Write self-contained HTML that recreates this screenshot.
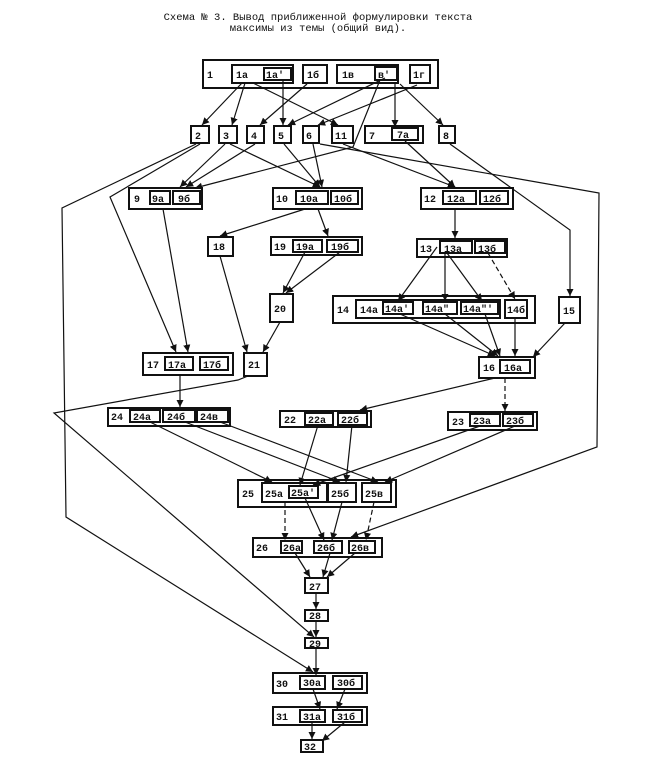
<!DOCTYPE html>
<html><head><meta charset="utf-8"><style>
html,body{margin:0;padding:0;background:#fff;}
svg{display:block;}
text{font-family:"Liberation Mono","DejaVu Sans Mono",monospace;font-size:10px;fill:#111;font-weight:bold;}
.t{font-size:10.5px;font-weight:normal;}
</style></head><body>
<svg width="647" height="761" viewBox="0 0 647 761" xmlns="http://www.w3.org/2000/svg">
<defs><marker id="a" markerWidth="7" markerHeight="7" refX="6" refY="3" orient="auto"><path d="M0,0 L6,3 L0,6 z" fill="#111"/></marker></defs>
<text class="t" x="318" y="20" text-anchor="middle">Схема № 3. Вывод приближенной формулировки текста</text>
<text class="t" x="318" y="31" text-anchor="middle">максимы из темы (общий вид).</text>
<g fill="none" stroke="#111" stroke-width="2">
<rect x="203" y="60" width="235" height="28"/>
<rect x="232" y="65" width="61" height="18"/><rect x="264" y="68" width="27" height="12"/>
<rect x="303" y="65" width="24" height="18"/>
<rect x="337" y="65" width="61" height="18"/><rect x="375" y="67" width="22" height="13"/>
<rect x="410" y="65" width="20" height="18"/>
<rect x="191" y="126" width="18" height="17"/><rect x="219" y="126" width="18" height="17"/>
<rect x="247" y="126" width="17" height="17"/><rect x="274" y="126" width="17" height="17"/>
<rect x="303" y="126" width="16" height="17"/><rect x="332" y="126" width="21" height="17"/>
<rect x="365" y="126" width="58" height="17"/><rect x="392" y="128" width="26" height="12"/>
<rect x="439" y="126" width="16" height="17"/>
<rect x="129" y="188" width="73" height="21"/><rect x="150" y="191" width="20" height="13"/><rect x="173" y="191" width="27" height="13"/>
<rect x="273" y="188" width="89" height="21"/><rect x="296" y="191" width="32" height="13"/><rect x="331" y="191" width="27" height="13"/>
<rect x="421" y="188" width="92" height="21"/><rect x="443" y="191" width="33" height="13"/><rect x="480" y="191" width="28" height="13"/>
<rect x="208" y="237" width="25" height="19"/>
<rect x="271" y="237" width="91" height="18"/><rect x="293" y="240" width="29" height="12"/><rect x="327" y="240" width="31" height="12"/>
<rect x="417" y="239" width="90" height="18"/><rect x="440" y="241" width="32" height="12"/><rect x="475" y="241" width="30" height="12"/>
<rect x="270" y="294" width="23" height="28"/>
<rect x="333" y="296" width="202" height="27"/><rect x="356" y="300" width="144" height="18"/>
<rect x="383" y="302" width="30" height="12"/><rect x="423" y="302" width="34" height="12"/><rect x="461" y="302" width="37" height="12"/>
<rect x="505" y="300" width="22" height="18"/>
<rect x="559" y="297" width="21" height="26"/>
<rect x="143" y="353" width="90" height="22"/><rect x="165" y="357" width="28" height="13"/><rect x="200" y="357" width="28" height="13"/>
<rect x="244" y="353" width="23" height="23"/>
<rect x="479" y="357" width="56" height="21"/><rect x="500" y="360" width="30" height="13"/>
<rect x="108" y="408" width="122" height="18"/><rect x="130" y="410" width="30" height="12"/><rect x="163" y="410" width="32" height="12"/><rect x="197" y="410" width="31" height="12"/>
<rect x="280" y="411" width="91" height="16"/><rect x="305" y="413" width="28" height="12"/><rect x="338" y="413" width="29" height="12"/>
<rect x="448" y="412" width="89" height="18"/><rect x="470" y="414" width="30" height="12"/><rect x="503" y="414" width="30" height="12"/>
<rect x="238" y="480" width="158" height="27"/><rect x="262" y="483" width="65" height="19"/><rect x="289" y="486" width="29" height="12"/>
<rect x="328" y="483" width="28" height="19"/><rect x="362" y="483" width="29" height="19"/>
<rect x="253" y="538" width="129" height="19"/><rect x="281" y="541" width="21" height="12"/><rect x="314" y="541" width="28" height="12"/><rect x="349" y="541" width="26" height="12"/>
<rect x="305" y="578" width="23" height="15"/>
<rect x="305" y="610" width="23" height="11"/>
<rect x="305" y="638" width="23" height="10"/>
<rect x="273" y="673" width="94" height="20"/><rect x="300" y="676" width="25" height="13"/><rect x="333" y="676" width="29" height="13"/>
<rect x="273" y="707" width="94" height="18"/><rect x="300" y="710" width="25" height="12"/><rect x="333" y="710" width="29" height="12"/>
<rect x="301" y="740" width="22" height="12"/>
</g>
<g fill="none" stroke="#111" stroke-width="1.2" marker-end="url(#a)">
<line x1="242" y1="83" x2="202" y2="125"/>
<line x1="245" y1="83" x2="232" y2="125"/>
<line x1="253" y1="83" x2="338" y2="125"/>
<line x1="283" y1="80" x2="283" y2="125"/>
<line x1="307" y1="84" x2="260" y2="125"/>
<line x1="385" y1="78" x2="288" y2="125"/>
<line x1="417" y1="85" x2="318" y2="125"/>
<line x1="395" y1="82" x2="395" y2="127"/>
<line x1="400" y1="84" x2="443" y2="125"/>
<polyline points="380,80 353,147 195,188"/>
<line x1="225" y1="144" x2="180" y2="187"/>
<line x1="255" y1="144" x2="186" y2="187"/>
<line x1="230" y1="144" x2="320" y2="187"/>
<line x1="284" y1="144" x2="320" y2="187"/>
<line x1="313" y1="144" x2="322" y2="187"/>
<line x1="343" y1="144" x2="455" y2="187"/>
<line x1="405" y1="141" x2="455" y2="187"/>
<polyline points="450,144 570,230 570,296"/>
<polyline points="320,144 599,193 597,447 351,537"/>
<polyline points="200,144 110,197 176,352"/>
<polyline points="196,144 62,208 66,517 313,672"/>
<line x1="163" y1="209" x2="188" y2="352"/>
<line x1="305" y1="209" x2="220" y2="236"/>
<line x1="318" y1="209" x2="328" y2="236"/>
<line x1="455" y1="209" x2="455" y2="238"/>
<line x1="305" y1="252" x2="283" y2="293"/>
<line x1="340" y1="252" x2="286" y2="293"/>
<line x1="220" y1="256" x2="247" y2="352"/>
<line x1="280" y1="322" x2="263" y2="352"/>
<line x1="437" y1="247" x2="398" y2="301"/>
<line x1="445" y1="253" x2="445" y2="301"/>
<line x1="447" y1="253" x2="482" y2="301"/>
<line x1="488" y1="253" x2="515" y2="299" stroke-dasharray="5,3"/>
<line x1="400" y1="314" x2="495" y2="356"/>
<line x1="445" y1="314" x2="498" y2="356"/>
<line x1="485" y1="314" x2="500" y2="356"/>
<line x1="515" y1="318" x2="515" y2="356"/>
<line x1="565" y1="323" x2="533" y2="357"/>
<line x1="180" y1="375" x2="180" y2="407"/>
<polyline points="248,376 238,380 54,413 314,637"/>
<line x1="495" y1="378" x2="360" y2="410"/>
<line x1="505" y1="378" x2="505" y2="411" stroke-dasharray="5,3"/>
<line x1="150" y1="422" x2="272" y2="482"/>
<line x1="185" y1="422" x2="340" y2="482"/>
<line x1="220" y1="422" x2="378" y2="482"/>
<line x1="318" y1="425" x2="300" y2="485"/>
<line x1="352" y1="425" x2="346" y2="482"/>
<line x1="480" y1="426" x2="313" y2="485"/>
<line x1="515" y1="426" x2="385" y2="482"/>
<line x1="285" y1="502" x2="285" y2="540" stroke-dasharray="5,3"/>
<line x1="305" y1="498" x2="324" y2="540"/>
<line x1="342" y1="502" x2="332" y2="540"/>
<line x1="374" y1="502" x2="366" y2="540" stroke-dasharray="5,3"/>
<line x1="295" y1="553" x2="310" y2="577"/>
<line x1="330" y1="553" x2="323" y2="577"/>
<line x1="355" y1="553" x2="327" y2="577"/>
<line x1="316" y1="593" x2="316" y2="609"/>
<line x1="316" y1="621" x2="316" y2="637"/>
<line x1="316" y1="648" x2="316" y2="675"/>
<line x1="313" y1="689" x2="320" y2="709"/>
<line x1="345" y1="689" x2="337" y2="709"/>
<line x1="312" y1="722" x2="312" y2="739"/>
<line x1="345" y1="722" x2="322" y2="741"/>
</g>
<g>
<text x="207" y="78">1</text><text x="236" y="78">1а</text><text x="266" y="78">1а'</text>
<text x="307" y="78">1б</text><text x="342" y="78">1в</text><text x="378" y="78">в'</text><text x="413" y="78">1г</text>
<text x="195" y="139">2</text><text x="223" y="139">3</text><text x="251" y="139">4</text><text x="278" y="139">5</text>
<text x="306" y="139">6</text><text x="335" y="139">11</text><text x="369" y="139">7</text><text x="397" y="138">7а</text><text x="443" y="139">8</text>
<text x="134" y="202">9</text><text x="152" y="202">9а</text><text x="178" y="202">9б</text>
<text x="276" y="202">10</text><text x="300" y="202">10а</text><text x="334" y="202">10б</text>
<text x="424" y="202">12</text><text x="447" y="202">12а</text><text x="483" y="202">12б</text>
<text x="213" y="250">18</text>
<text x="274" y="250">19</text><text x="296" y="250">19а</text><text x="331" y="250">19б</text>
<text x="420" y="252">13</text><text x="444" y="252">13а</text><text x="478" y="252">13б</text>
<text x="274" y="312">20</text>
<text x="337" y="313">14</text><text x="360" y="313">14а</text><text x="385" y="312">14а'</text><text x="425" y="312">14а"</text><text x="463" y="312">14а"'</text><text x="507" y="313">14б</text>
<text x="563" y="314">15</text>
<text x="147" y="368">17</text><text x="168" y="368">17а</text><text x="203" y="368">17б</text>
<text x="248" y="368">21</text>
<text x="483" y="371">16</text><text x="504" y="371">16а</text>
<text x="111" y="420">24</text><text x="133" y="420">24а</text><text x="167" y="420">24б</text><text x="200" y="420">24в</text>
<text x="284" y="423">22</text><text x="308" y="423">22а</text><text x="341" y="423">22б</text>
<text x="452" y="425">23</text><text x="473" y="424">23а</text><text x="506" y="424">23б</text>
<text x="242" y="497">25</text><text x="265" y="497">25а</text><text x="291" y="496">25а'</text><text x="331" y="497">25б</text><text x="365" y="497">25в</text>
<text x="256" y="551">26</text><text x="283" y="551">26а</text><text x="317" y="551">26б</text><text x="351" y="551">26в</text>
<text x="309" y="590">27</text><text x="309" y="619">28</text><text x="309" y="647">29</text>
<text x="276" y="687">30</text><text x="303" y="686">30а</text><text x="337" y="686">30б</text>
<text x="276" y="720">31</text><text x="303" y="720">31а</text><text x="337" y="720">31б</text>
<text x="304" y="750">32</text>
</g>
</svg>
</body></html>
